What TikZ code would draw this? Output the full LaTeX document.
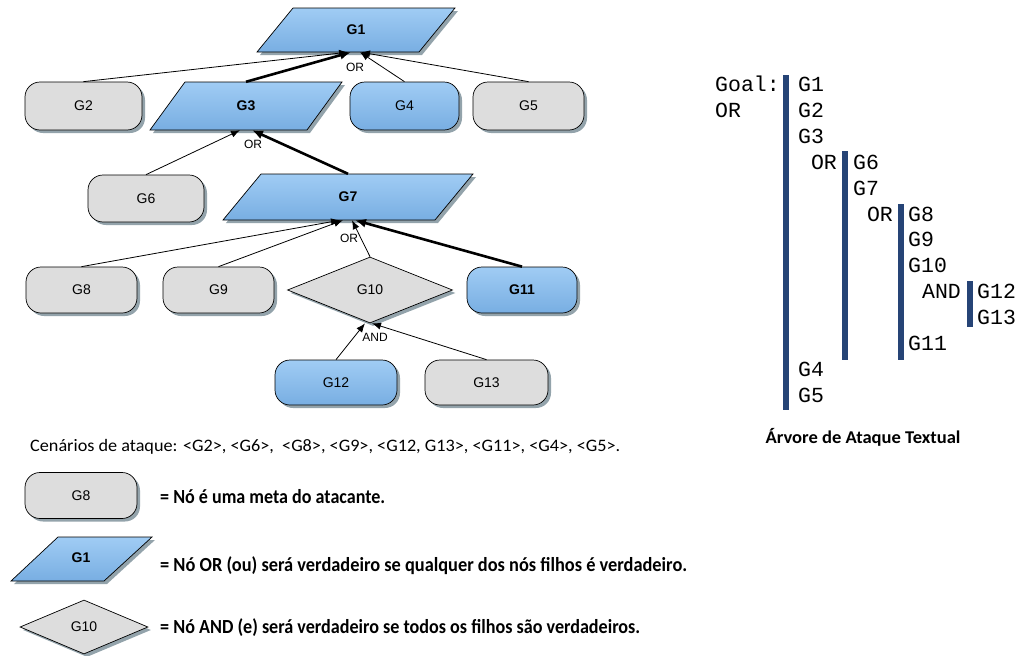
\documentclass[tikz,border=0pt]{standalone}
\usepackage{fontspec}
\setmainfont{Liberation Sans}
\newfontfamily\legfont{Carlito}
\newfontfamily\monofont{Liberation Mono}
\usetikzlibrary{shapes.geometric,shadows,arrows.meta}
\definecolor{bluetop}{RGB}{160,204,244}
\definecolor{bluebot}{RGB}{120,174,226}
\definecolor{grayfill}{RGB}{221,221,221}
\definecolor{shc}{RGB}{120,140,150}
\definecolor{barc}{RGB}{38,68,118}
\newsavebox\lgbox
\newcommand\fitw[2]{\sbox\lgbox{#2}\pgfmathsetmacro\lgfac{#1/\wd\lgbox}\scalebox{\lgfac}[1]{\usebox\lgbox}}
\tikzset{
  shad/.style={drop shadow={shadow xshift=3pt, shadow yshift=-3pt, fill=shc, opacity=0.8}},
  nfont/.style={font=\fontsize{14}{16}\selectfont},
  gbox/.style={shad, draw=black, line width=0.7pt, fill=grayfill, rounded corners=15pt, nfont, inner sep=0pt},
  bbox/.style={gbox, top color=bluetop, bottom color=bluebot},
  para/.style={shad, draw=black, line width=0.7pt, top color=bluetop, bottom color=bluebot},
  plbl/.style={inner sep=0pt, font=\fontsize{14}{16}\selectfont\bfseries},
  dia/.style={diamond, shad, draw=black, line width=0.7pt, fill=grayfill, inner sep=0pt, nfont},
  edge/.style={-{Latex[length=9pt,width=7pt]}, line width=0.8pt},
  tedge/.style={-{Latex[length=11pt,width=9pt]}, line width=2.6pt},
  oplbl/.style={font=\fontsize{12}{14}\selectfont, inner sep=0pt},
  mono/.style={font=\monofont\fontsize{21.5}{24}\selectfont, inner sep=0pt, anchor=base west},
  monoe/.style={mono, anchor=base east},
  bar/.style={fill=barc, draw=none},
  legt/.style={inner sep=0pt, anchor=west},
}
\begin{document}
\begin{tikzpicture}[x=1pt,y=-1pt]
\useasboundingbox (0,0) rectangle (1021,656);

% ---------- G1 ----------
\path[para] (293,8) -- (455,8) -- (419,52) -- (257,52) -- cycle;
\node[plbl, minimum width=120pt, minimum height=44pt] (G1) at (356,30) {G1};

% ---------- level 2 ----------
\node[gbox, minimum width=117pt, minimum height=48pt] (G2) at (83.5,106) {G2};
\path[para] (185,82) -- (342,82) -- (307,130) -- (150,130) -- cycle;
\node[plbl, minimum width=100pt, minimum height=48pt] (G3) at (246,106) {G3};
\node[bbox, minimum width=109pt, minimum height=48pt] (G4) at (404.5,106) {G4};
\node[gbox, minimum width=111pt, minimum height=48pt] (G5) at (528.5,106) {G5};

% ---------- level 3 ----------
\node[gbox, minimum width=116pt, minimum height=47pt] (G6) at (146,198.5) {G6};
\path[para] (261,174) -- (473,174) -- (435,220) -- (223,220) -- cycle;
\node[plbl, minimum width=120pt, minimum height=46pt] (G7) at (348,197) {G7};

% ---------- level 4 ----------
\node[gbox, minimum width=111pt, minimum height=46pt] (G8) at (81.5,290) {G8};
\node[gbox, minimum width=111pt, minimum height=46pt] (G9) at (218.5,290) {G9};
\node[dia, minimum width=165pt, minimum height=66pt] (G10) at (370,290) {G10};
\node[bbox, minimum width=110pt, minimum height=46pt, font=\fontsize{14}{16}\selectfont\bfseries] (G11) at (522,290) {G11};

% ---------- level 5 ----------
\node[bbox, minimum width=122pt, minimum height=45pt] (G12) at (336,382.5) {G12};
\node[gbox, minimum width=123pt, minimum height=45pt] (G13) at (486.5,382.5) {G13};

% ---------- connectors ----------
\draw[edge] (G2.north) -- ([xshift=-8pt]G1.south);
\draw[edge] (G4.north) -- ([xshift=4pt]G1.south);
\draw[edge] (G5.north) -- ([xshift=5pt]G1.south);
\draw[tedge] (G3.north) -- ([xshift=-5pt]G1.south);
\node[oplbl] (or1) at (355,67) {OR};

\draw[edge] (G6.north) -- ([xshift=-6pt]G3.south);
\draw[tedge] (G7.north) -- ([xshift=6pt]G3.south);
\node[oplbl] (or2) at (253,144) {OR};

\draw[edge] (G8.north) -- ([xshift=-8pt]G7.south);
\draw[edge] (G9.north) -- ([xshift=-5pt]G7.south);
\draw[edge] (G10.north) -- ([xshift=4pt]G7.south);
\draw[tedge] (G11.north) -- ([xshift=7pt]G7.south);
\node[oplbl] (or3) at (349,238) {OR};

\draw[edge] (G12.north) -- ([xshift=-5pt]G10.south);
\draw[edge] (G13.north) -- ([xshift=2pt]G10.south);
\node[oplbl] (and1) at (375,337) {AND};

% ---------- legend ----------
\node[legt] (cen) at (30,447) {\fitw{590}{\legfont\fontsize{17.5}{20}\selectfont Cenários de ataque: <G2>, <G6>,\ \ <G8>, <G9>, <G12, G13>, <G11>, <G4>, <G5>.}};

\node[gbox, minimum width=112pt, minimum height=46pt] (LG8) at (81,495.5) {G8};
\node[legt] (t1) at (160,497) {\fitw{225}{\legfont\bfseries\fontsize{20}{23}\selectfont = Nó é uma meta do atacante.}};

\path[para] (58,537) -- (152,537) -- (104,581) -- (11,581) -- cycle;
\node[plbl] (LG1) at (81,558) {G1};
\node[legt] (t2) at (160,566) {\fitw{527}{\legfont\bfseries\fontsize{20}{23}\selectfont = Nó OR (ou) será verdadeiro se qualquer dos nós filhos é verdadeiro.}};

\node[dia, minimum width=128pt, minimum height=54pt] (LG10) at (84,627) {G10};
\node[legt] (t3) at (160,628) {\fitw{480}{\legfont\bfseries\fontsize{20}{23}\selectfont = Nó AND (e) será verdadeiro se todos os filhos são verdadeiros.}};

% ---------- textual tree ----------
\path[bar] (783,75) rectangle (789,410);
\path[bar] (842,151) rectangle (848,360);
\path[bar] (898,204) rectangle (904,360);
\path[bar] (967,281) rectangle (973,327);

\node[mono] (goal) at (715,91.5) {Goal:};
\node[mono] (or0) at (715,117.4) {OR};
\node[mono] (r1) at (798,91.5) {G1};
\node[mono] (r2) at (798,117.4) {G2};
\node[mono] (r3) at (798,143.3) {G3};
\node[monoe] (orb) at (837,169.2) {OR};
\node[mono] (r6) at (853,169.2) {G6};
\node[mono] (r7) at (853,195.1) {G7};
\node[monoe] (orc) at (893,221.0) {OR};
\node[mono] (r8) at (908,221.0) {G8};
\node[mono] (r9) at (908,246.9) {G9};
\node[mono] (r10) at (908,272.8) {G10};
\node[monoe] (andd) at (961,298.7) {AND};
\node[mono] (r12) at (977,298.7) {G12};
\node[mono] (r13) at (977,324.6) {G13};
\node[mono] (r11) at (908,350.5) {G11};
\node[mono] (r4) at (798,376.4) {G4};
\node[mono] (r5) at (798,402.3) {G5};

\node[inner sep=0pt] (cap) at (863,437) {\fitw{195}{\legfont\bfseries\fontsize{18}{21}\selectfont Árvore de Ataque Textual}};
\end{tikzpicture}
\end{document}
